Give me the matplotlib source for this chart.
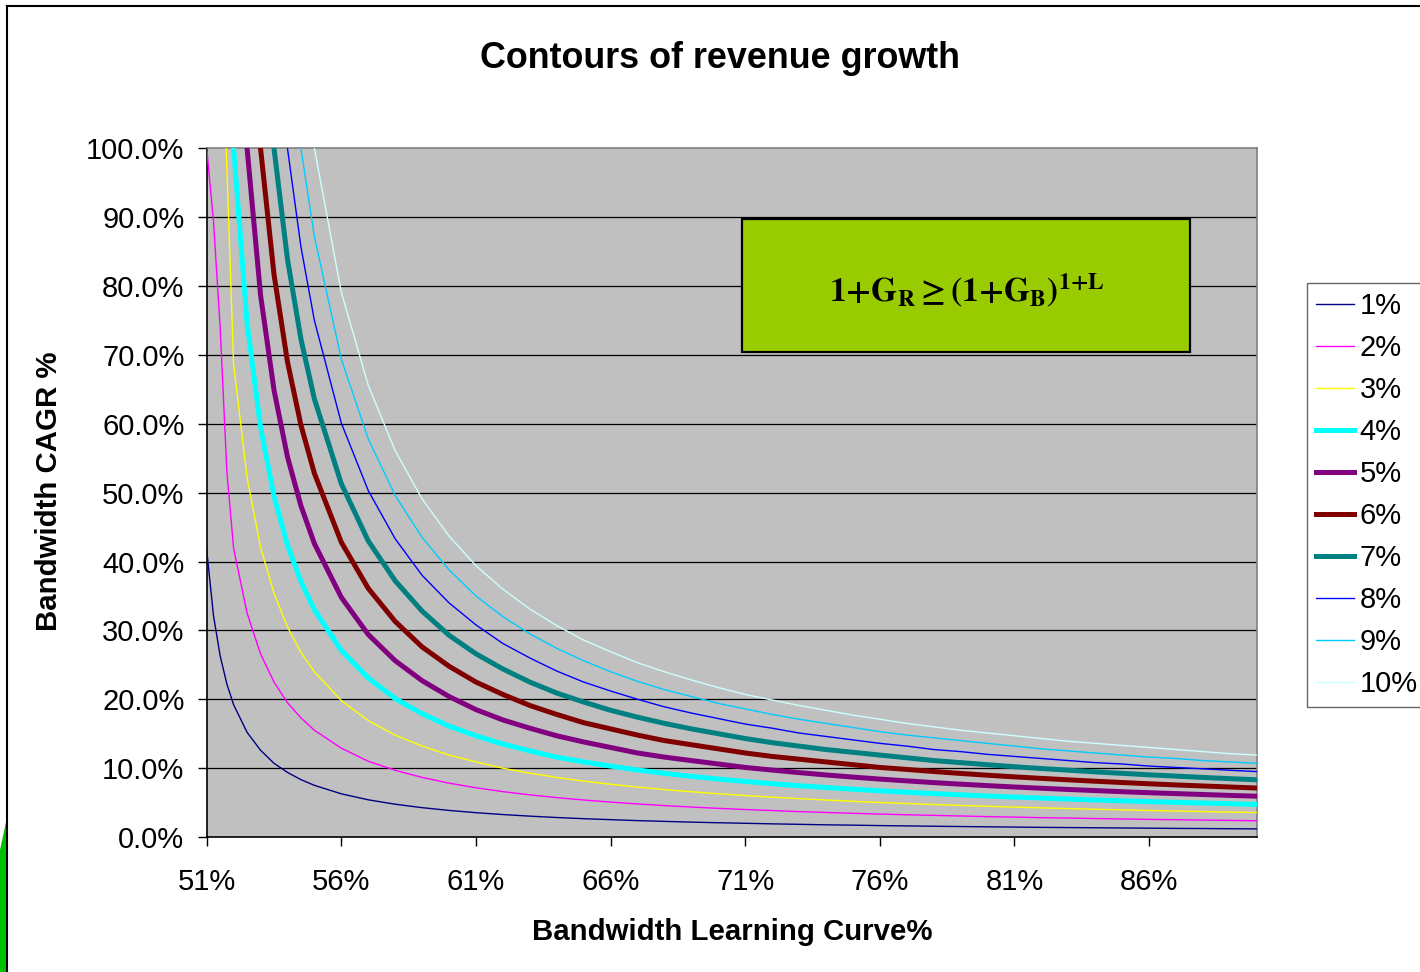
import matplotlib
matplotlib.use("Agg")
import matplotlib.pyplot as plt
from matplotlib.patches import Rectangle, Polygon
from matplotlib.lines import Line2D

plt.rcParams['font.family'] = ['Liberation Sans', 'DejaVu Sans']
plt.rcParams['mathtext.fontset'] = 'stix'

# Learning curve (x) and bandwidth CAGR % needed for each revenue growth rate
learning_curve = [51, 51.25, 51.5, 51.75, 52, 52.5, 53, 53.5, 54, 54.5,
                  55, 56, 57, 58, 59, 60, 61, 62, 63, 64, 65, 66, 67, 68, 69,
                  70, 71, 72, 73, 74, 75, 76, 77, 78, 79, 80, 81, 82, 83, 84,
                  85, 86, 87, 88, 89, 90]

g1 = [41.7, 32.2, 26.3, 22.2, 19.2, 15.2, 12.6, 10.7, 9.38, 8.33,
      7.50, 6.27, 5.40, 4.76, 4.26, 3.86, 3.53, 3.26, 3.03, 2.83, 2.66, 2.52, 2.38, 2.27, 2.16,
      2.07, 1.99, 1.91, 1.84, 1.77, 1.72, 1.66, 1.61, 1.56, 1.52, 1.48, 1.44, 1.40, 1.37, 1.34,
      1.31, 1.28, 1.25, 1.23, 1.20, 1.18]
g2 = [100.0, 89.5, 74.0, 53.0, 41.9, 32.5, 26.6, 22.5, 19.5, 17.3,
      15.5, 12.9, 11.0, 9.69, 8.65, 7.82, 7.15, 6.59, 6.12, 5.72, 5.37, 5.07, 4.80, 4.56, 4.35,
      4.16, 3.99, 3.84, 3.69, 3.56, 3.44, 3.33, 3.23, 3.14, 3.05, 2.96, 2.89, 2.81, 2.75, 2.68,
      2.62, 2.56, 2.51, 2.46, 2.41, 2.36]
g3 = [181.4, 150.0, 125.0, 97.0, 68.6, 52.2, 42.1, 35.4, 30.5, 26.8,
      24.0, 19.8, 16.9, 14.8, 13.2, 11.9, 10.9, 9.99, 9.27, 8.65, 8.12, 7.66, 7.25, 6.89, 6.57,
      6.28, 6.02, 5.78, 5.56, 5.37, 5.18, 5.01, 4.86, 4.72, 4.58, 4.46, 4.34, 4.23, 4.13, 4.03,
      3.94, 3.85, 3.77, 3.69, 3.62, 3.55]
g4 = [294.6, 200.6, 150.8, 120.4, 100.0, 74.6, 59.5, 49.5, 42.4, 37.1,
      33.0, 27.1, 23.1, 20.1, 17.9, 16.1, 14.7, 13.5, 12.5, 11.6, 10.9, 10.3, 9.73, 9.24, 8.81,
      8.42, 8.06, 7.74, 7.45, 7.18, 6.94, 6.71, 6.50, 6.30, 6.12, 5.95, 5.80, 5.65, 5.51, 5.38,
      5.26, 5.14, 5.03, 4.93, 4.83, 4.73]
g5 = [451.6, 293.3, 213.9, 167.3, 136.9, 100.0, 78.7, 64.9, 55.2, 48.1,
      42.6, 34.8, 29.4, 25.6, 22.7, 20.4, 18.5, 17.0, 15.8, 14.7, 13.8, 13.0, 12.2, 11.6, 11.1,
      10.6, 10.1, 9.72, 9.35, 9.01, 8.70, 8.41, 8.15, 7.90, 7.67, 7.46, 7.26, 7.08, 6.90, 6.74,
      6.58, 6.43, 6.30, 6.17, 6.04, 5.92]
g6 = [668.6, 413.0, 292.0, 223.5, 180.1, 128.9, 100.0, 81.7, 69.0, 59.8,
      52.8, 42.8, 36.1, 31.3, 27.6, 24.8, 22.5, 20.7, 19.1, 17.8, 16.6, 15.7, 14.8, 14.0, 13.4,
      12.8, 12.2, 11.7, 11.3, 10.9, 10.5, 10.1, 9.81, 9.51, 9.23, 8.97, 8.73, 8.51, 8.30, 8.10,
      7.91, 7.73, 7.56, 7.41, 7.26, 7.11]
g7 = [967.6, 568.0, 388.6, 290.9, 230.6, 161.5, 123.6, 100.0, 83.9, 72.3,
      63.6, 51.3, 43.0, 37.2, 32.8, 29.3, 26.6, 24.4, 22.5, 20.9, 19.6, 18.4, 17.4, 16.5, 15.7,
      15.0, 14.3, 13.7, 13.2, 12.7, 12.3, 11.9, 11.5, 11.1, 10.8, 10.5, 10.2, 9.94, 9.70, 9.46,
      9.24, 9.03, 8.84, 8.65, 8.47, 8.31]
g8 = [1378, 767, 508, 371, 289.7, 198.5, 149.8, 120.0, 100.0, 85.7,
      75.0, 60.1, 50.3, 43.3, 38.0, 34.0, 30.8, 28.1, 26.0, 24.1, 22.5, 21.2, 20.0, 18.9, 18.0,
      17.2, 16.4, 15.8, 15.1, 14.6, 14.1, 13.6, 13.2, 12.7, 12.4, 12.0, 11.7, 11.4, 11.1, 10.8,
      10.6, 10.3, 10.1, 9.90, 9.69, 9.50]
g9 = [1941, 1023, 654, 467.7, 358.6, 240.3, 178.8, 141.8, 117.3, 100.0,
      87.2, 69.4, 57.8, 49.6, 43.5, 38.8, 35.0, 32.0, 29.5, 27.4, 25.6, 24.0, 22.6, 21.4, 20.4,
      19.4, 18.6, 17.8, 17.1, 16.5, 15.9, 15.3, 14.8, 14.4, 14.0, 13.6, 13.2, 12.8, 12.5, 12.2,
      11.9, 11.6, 11.4, 11.1, 10.9, 10.7]
g10 = [2710, 1351, 834, 582.5, 439.0, 287.4, 210.8, 165.5, 135.9, 115.2,
       100.0, 79.1, 65.6, 56.1, 49.1, 43.7, 39.4, 36.0, 33.1, 30.7, 28.6, 26.9, 25.3, 24.0, 22.8,
       21.7, 20.7, 19.9, 19.1, 18.4, 17.7, 17.1, 16.5, 16.0, 15.5, 15.1, 14.7, 14.3, 13.9, 13.6,
       13.3, 13.0, 12.7, 12.4, 12.1, 11.9]

series_names = ["1%", "2%", "3%", "4%", "5%", "6%", "7%", "8%", "9%", "10%"]
series_values = [g1, g2, g3, g4, g5, g6, g7, g8, g9, g10]
colors = ["#000080", "#ff00ff", "#ffff00", "#00ffff", "#800080",
          "#800000", "#008080", "#0000ff", "#00ccff", "#ccffff"]
widths = [1.0, 1.0, 1.0, 3.6, 3.6, 3.6, 3.6, 1.0, 1.0, 1.0]

x_ticks = [51, 56, 61, 66, 71, 76, 81, 86]
x_tick_labels = ["51%", "56%", "61%", "66%", "71%", "76%", "81%", "86%"]
y_ticks = [0, 10, 20, 30, 40, 50, 60, 70, 80, 90, 100]
y_tick_labels = ["0.0%", "10.0%", "20.0%", "30.0%", "40.0%", "50.0%",
                 "60.0%", "70.0%", "80.0%", "90.0%", "100.0%"]

W, H = 1420, 972
fig = plt.figure(figsize=(W / 100, H / 100), dpi=100)
fig.patch.set_facecolor("white")

ax = fig.add_axes([206.7 / W, 1 - 837 / H, 1050 / W, 688.7 / H])
ax.set_facecolor("#c0c0c0")

for yv in y_ticks[1:-1]:
    ax.axhline(yv, color="black", lw=0.9, zorder=1)

for name, vals, c, lw in zip(series_names, series_values, colors, widths):
    ax.plot(learning_curve, vals, color=c, lw=lw, label=name, zorder=3,
            solid_joinstyle="round")

ax.set_xlim(51, 90)
ax.set_ylim(0, 100)
ax.set_xticks(x_ticks)
ax.set_xticklabels(x_tick_labels, fontsize=21)
ax.set_yticks(y_ticks)
ax.set_yticklabels(y_tick_labels, fontsize=21)
ax.tick_params(axis="both", direction="out", length=6.5, width=1, color="black")
ax.tick_params(axis="x", pad=16)
ax.tick_params(axis="y", pad=9.5)

for side in ["left", "bottom"]:
    ax.spines[side].set_color("black")
    ax.spines[side].set_linewidth(1.2)
for side in ["top", "right"]:
    ax.spines[side].set_color("#808080")
    ax.spines[side].set_linewidth(1.2)

# formula box
ax.add_patch(Rectangle((742 / W, 1 - 352 / H), 448 / W, 133 / H,
                       transform=fig.transFigure, facecolor="#99cc00",
                       edgecolor="black", lw=1.6, zorder=5))
fig.text(967 / W, 1 - 291 / H, r"$\mathbf{1{+}G_R{\geq}(1{+}G_B)^{1{+}L}}$",
         ha="center", va="center", fontsize=24, zorder=6)

fig.text(720 / W, 1 - 59 / H, "Contours of revenue growth", ha="center",
         va="center", fontsize=25.8, fontweight="bold")
fig.text(732 / W, 1 - 932 / H, "Bandwidth Learning Curve%", ha="center",
         va="center", fontsize=21.2, fontweight="bold")
fig.text(49 / W, 1 - 491 / H, "Bandwidth CAGR %", ha="center",
         va="center", rotation=90, fontsize=21.2, fontweight="bold")

leg = ax.legend(loc="upper left", bbox_to_anchor=(1307 / W, 1 - 283 / H),
                bbox_transform=fig.transFigure, borderaxespad=0,
                fontsize=21, frameon=True, fancybox=False, handlelength=1.3,
                handletextpad=0.2, labelspacing=0.48, borderpad=0.3)
leg.get_frame().set_edgecolor("#404040")
leg.get_frame().set_linewidth(1.0)

# slide frame and edge decoration
fig.add_artist(Line2D([7 / W, 7 / W], [0, 1 - 6 / H], color="black", lw=1.5))
fig.add_artist(Line2D([7 / W, 1], [1 - 6 / H, 1 - 6 / H], color="black", lw=1.5))
fig.add_artist(Polygon([(0, 0), (0, 1 - 850 / H), (6 / W, 1 - 822 / H), (6 / W, 0)],
                       closed=True, transform=fig.transFigure,
                       facecolor="#00c000", edgecolor="none"))

fig.savefig("out.png", dpi=100)
